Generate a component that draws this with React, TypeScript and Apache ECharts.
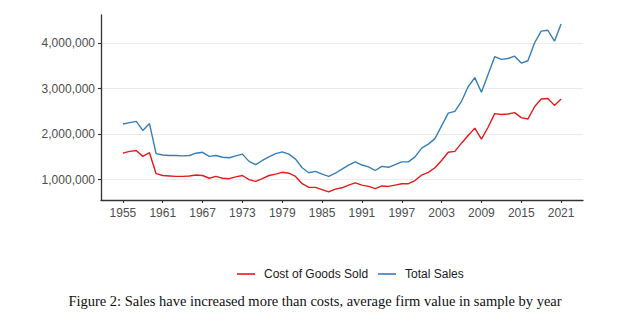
import React, { useEffect, useRef } from "react";
import * as echarts from "echarts";

const years: number[] = [];
for (let y = 1955; y <= 2021; y++) years.push(y);

const totalSales = [
  2220000, 2250000, 2280000, 2080000, 2230000, 1570000, 1540000, 1530000, 1530000, 1520000,
  1530000, 1580000, 1600000, 1510000, 1530000, 1490000, 1480000, 1520000, 1560000, 1400000,
  1330000, 1420000, 1500000, 1570000, 1610000, 1560000, 1450000, 1260000, 1150000, 1180000,
  1120000, 1070000, 1140000, 1230000, 1320000, 1390000, 1320000, 1280000, 1200000, 1290000,
  1270000, 1330000, 1390000, 1390000, 1500000, 1690000, 1780000, 1900000, 2180000, 2460000,
  2500000, 2720000, 3040000, 3240000, 2920000, 3310000, 3700000, 3640000, 3660000, 3710000,
  3560000, 3610000, 4000000, 4260000, 4280000, 4040000, 4420000,
];

const costOfGoodsSold = [
  1580000, 1620000, 1640000, 1510000, 1590000, 1130000, 1090000, 1080000, 1070000, 1070000,
  1080000, 1100000, 1090000, 1030000, 1070000, 1030000, 1020000, 1060000, 1090000, 1000000,
  960000, 1020000, 1090000, 1120000, 1160000, 1140000, 1070000, 910000, 830000, 830000,
  780000, 730000, 790000, 820000, 880000, 930000, 880000, 850000, 800000, 860000,
  850000, 880000, 910000, 910000, 980000, 1100000, 1160000, 1260000, 1420000, 1600000,
  1620000, 1800000, 1970000, 2130000, 1890000, 2150000, 2450000, 2430000, 2440000, 2470000,
  2360000, 2330000, 2600000, 2770000, 2780000, 2630000, 2770000,
];

const xTicks = [1955, 1961, 1967, 1973, 1979, 1985, 1991, 1997, 2003, 2009, 2015, 2021];
const yTicks = [1000000, 2000000, 3000000, 4000000];

const seriesNames = ["Cost of Goods Sold", "Total Sales"];
const caption =
  "Figure 2: Sales have increased more than costs, average firm value in sample by year";

export default function App() {
  const ref = useRef<HTMLDivElement>(null);
  useEffect(() => {
    if (!ref.current) return;
    const chart = echarts.init(ref.current, null, { renderer: "svg" });
    const sans = "'Liberation Sans', Arial, sans-serif";
    const axisColor = "#333333";
    chart.setOption({
      animation: false,
      grid: { left: 101, right: 60, top: 15, bottom: 121, containLabel: false },
      xAxis: {
        type: "value",
        min: 1951.7,
        max: 2024.3,
        axisLine: { show: true, onZero: false, lineStyle: { color: axisColor, width: 1.3 } },
        axisTick: { show: true, length: 3, customValues: xTicks, lineStyle: { color: axisColor, width: 1.1 } },
        axisLabel: {
          customValues: xTicks,
          color: "#4d4d4d",
          fontSize: 12,
          fontFamily: sans,
          margin: 7,
          formatter: (v: number) => String(v),
        },
        splitLine: { show: false },
      },
      yAxis: {
        type: "value",
        min: 552000,
        max: 4615000,
        axisLine: { show: true, onZero: false, lineStyle: { color: axisColor, width: 1.3 } },
        axisTick: { show: true, length: 3, customValues: yTicks, lineStyle: { color: axisColor, width: 1.1 } },
        axisLabel: {
          customValues: yTicks,
          color: "#4d4d4d",
          fontSize: 12,
          fontFamily: sans,
          margin: 6,
          formatter: (v: number) => v.toLocaleString("en-US"),
        },
        splitLine: { show: true, lineStyle: { color: "#ebebeb", width: 1.1 } },
      },
      legend: {
        left: 232,
        top: 263,
        icon: "rect",
        itemWidth: 18,
        itemHeight: 1.6,
        itemGap: 10,
        data: seriesNames,
        textStyle: { fontSize: 12, color: "#1a1a1a", fontFamily: sans, padding: [0, 0, 0, 4] },
      },
      graphic: [
        {
          type: "text",
          x: 315,
          y: 301,
          style: {
            text: caption,
            fontSize: 14.5,
            fontFamily: "'Liberation Serif', 'DejaVu Serif', serif",
            fill: "#111",
            align: "center",
            verticalAlign: "middle",
          },
        },
      ],
      series: [
        {
          name: seriesNames[0],
          type: "line",
          symbol: "none",
          data: years.map((y, i) => [y, costOfGoodsSold[i]]),
          lineStyle: { color: "#E41A1C", width: 1.4 },
          itemStyle: { color: "#E41A1C" },
        },
        {
          name: seriesNames[1],
          type: "line",
          symbol: "none",
          data: years.map((y, i) => [y, totalSales[i]]),
          lineStyle: { color: "#377EB8", width: 1.4 },
          itemStyle: { color: "#377EB8" },
        },
      ],
    });
    return () => chart.dispose();
  }, []);
  return (
    <div
      ref={ref}
      style={{ position: "fixed", left: 0, top: 0, width: 643, height: 321, background: "#fff" }}
    />
  );
}
